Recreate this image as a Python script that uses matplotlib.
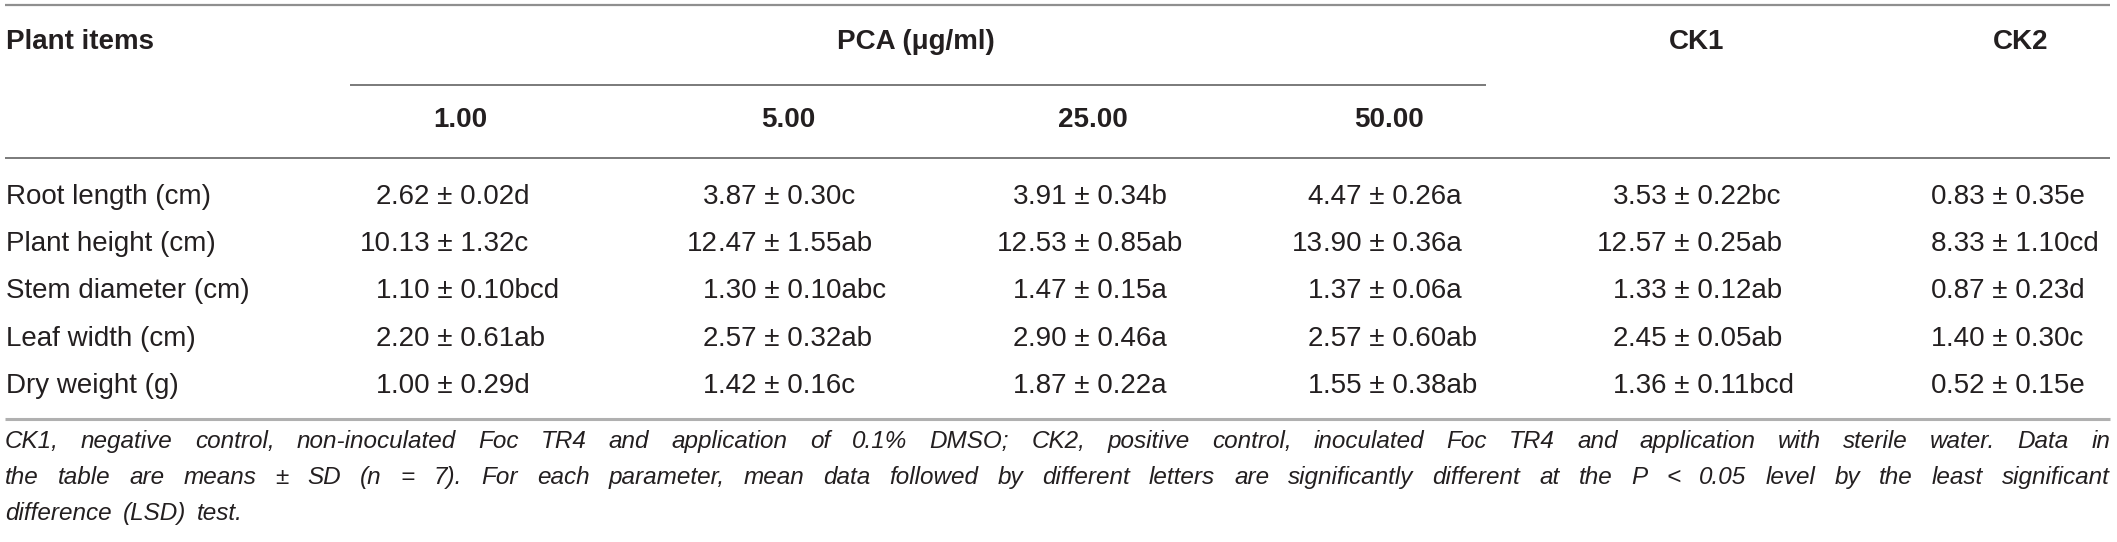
import matplotlib
matplotlib.use("Agg")
import matplotlib.pyplot as plt

# ---------------- data ----------------
row_labels = ["Root length (cm)", "Plant height (cm)", "Stem diameter (cm)",
              "Leaf width (cm)", "Dry weight (g)"]
col_labels = ["1.00", "5.00", "25.00", "50.00", "CK1", "CK2"]
group_label = "PCA (μg/ml)"
first_header = "Plant items"

means = [
    [2.62, 3.87, 3.91, 4.47, 3.53, 0.83],
    [10.13, 12.47, 12.53, 13.90, 12.57, 8.33],
    [1.10, 1.30, 1.47, 1.37, 1.33, 0.87],
    [2.20, 2.57, 2.90, 2.57, 2.45, 1.40],
    [1.00, 1.42, 1.87, 1.55, 1.36, 0.52],
]
sds = [
    [0.02, 0.30, 0.34, 0.26, 0.22, 0.35],
    [1.32, 1.55, 0.85, 0.36, 0.25, 1.10],
    [0.10, 0.10, 0.15, 0.06, 0.12, 0.23],
    [0.61, 0.32, 0.46, 0.60, 0.05, 0.30],
    [0.29, 0.16, 0.22, 0.38, 0.11, 0.15],
]
letters = [
    ["d", "c", "b", "a", "bc", "e"],
    ["c", "ab", "ab", "a", "ab", "cd"],
    ["bcd", "abc", "a", "a", "ab", "d"],
    ["ab", "ab", "a", "ab", "ab", "c"],
    ["d", "c", "a", "ab", "bcd", "e"],
]
footnote_lines = [
    "CK1, negative control, non-inoculated Foc TR4 and application of 0.1% DMSO; CK2, positive control, inoculated Foc TR4 and application with sterile water. Data in",
    "the table are means ± SD (n = 7). For each parameter, mean data followed by different letters are significantly different at the P < 0.05 level by the least significant",
    "difference (LSD) test.",
]

# ---------------- layout ----------------
W, H = 2117, 542
DPI = 100
fig = plt.figure(figsize=(W / DPI, H / DPI), dpi=DPI)
ax = fig.add_axes([0, 0, 1, 1])
ax.set_xlim(0, W)
ax.set_ylim(H, 0)
ax.axis("off")

TXT = "#231f20"
FONT = "Liberation Sans"
FS = 20
FS_NOTE = 17.5

x_left = 5
x_right = 2110
col_centers = [460, 788, 1093, 1389, 1697, 2021]
col_dec = [391, 718, 1028, 1323, 1628, 1946]
pca_center = 916
pca_line = (350, 1486)

y_top_line = 5
y_head1 = 49
y_pca_line = 85
y_head2 = 127
y_head_line = 158
y_rows = [204, 251, 298, 346, 393]
y_bottom_line = 419
y_notes = [448, 484, 520]

# lines
ax.plot([x_left, x_right], [y_top_line] * 2, color="#8f8f8f", lw=1.6, solid_capstyle="butt")
ax.plot(list(pca_line), [y_pca_line] * 2, color="#7a7a7a", lw=1.4, solid_capstyle="butt")
ax.plot([x_left, x_right], [y_head_line] * 2, color="#7a7a7a", lw=1.4, solid_capstyle="butt")
ax.plot([x_left, x_right], [y_bottom_line] * 2, color="#b0b0b0", lw=2.2, solid_capstyle="butt")

# headers
ax.text(x_left + 1, y_head1, first_header, fontsize=FS, fontweight="bold",
        family=FONT, color=TXT, ha="left", va="baseline")
ax.text(pca_center, y_head1, group_label, fontsize=FS, fontweight="bold",
        family=FONT, color=TXT, ha="center", va="baseline")
for i, lab in enumerate(col_labels):
    y = y_head2 if i < 4 else y_head1
    ax.text(col_centers[i], y, lab, fontsize=FS, fontweight="bold",
            family=FONT, color=TXT, ha="center", va="baseline")

# body
for r, lab in enumerate(row_labels):
    y = y_rows[r]
    ax.text(x_left + 1, y, lab, fontsize=FS, family=FONT, color=TXT,
            ha="left", va="baseline")
    for c in range(len(col_labels)):
        s = f"{means[r][c]:.2f} ± {sds[r][c]:.2f}{letters[r][c]}"
        ip, rest = s.split(".", 1)
        ax.text(col_dec[c], y, ip, fontsize=FS, family=FONT, color=TXT,
                ha="right", va="baseline")
        ax.text(col_dec[c], y, "." + rest, fontsize=FS, family=FONT, color=TXT,
                ha="left", va="baseline")

# footnote (justified)
renderer = fig.canvas.get_renderer()
for i, line in enumerate(footnote_lines):
    words = line.split(" ")
    texts = [ax.text(0, y_notes[i], w, fontsize=FS_NOTE, family=FONT, style="italic",
                     color=TXT, ha="left", va="baseline") for w in words]
    if i < len(footnote_lines) - 1:
        widths = [t.get_window_extent(renderer).width for t in texts]
        gap = (x_right - x_left - sum(widths)) / (len(words) - 1)
        x = x_left
        for t, w in zip(texts, widths):
            t.set_x(x)
            x += w + gap
    else:
        sp = ax.text(0, 0, "a a", fontsize=FS_NOTE, family=FONT, style="italic")
        sp_w = sp.get_window_extent(renderer).width
        sp2 = ax.text(0, 0, "aa", fontsize=FS_NOTE, family=FONT, style="italic")
        space = sp_w - sp2.get_window_extent(renderer).width
        sp.remove(); sp2.remove()
        x = x_left
        for t in texts:
            t.set_x(x)
            x += t.get_window_extent(renderer).width + space * 1.6

fig.savefig("out.png", dpi=DPI)
